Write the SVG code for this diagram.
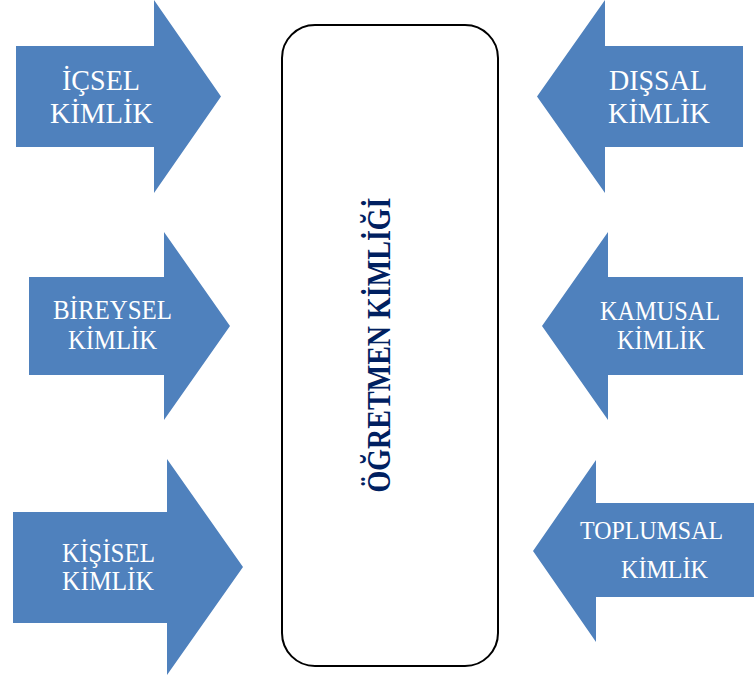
<svg xmlns="http://www.w3.org/2000/svg" width="754" height="680" viewBox="0 0 754 680">
<style>
.arrow{fill:#4F81BD;}
.lbl{font-family:"Liberation Serif","Times New Roman",serif;fill:#FFFFFF;}
.core{fill:#FFFFFF;stroke:#000000;stroke-width:2;}
.title{font-family:"Liberation Serif","Times New Roman",serif;font-weight:bold;fill:#002060;font-size:33px;}
</style>
<rect width="754" height="680" fill="#FFFFFF"/>
<g id="core">
<rect class="core" x="282" y="25" width="216" height="641" rx="33" ry="33"/>
<text class="title" transform="translate(390,345) rotate(-90)" x="0" y="0" text-anchor="middle" textLength="295" lengthAdjust="spacingAndGlyphs">ÖĞRETMEN KİMLİĞİ</text>
</g>
<g id="connectors">
<g id="icsel">
<polygon class="arrow" points="16,46 154,46 154,0 221,96.5 154,193 154,147 16,147"/>
<text class="lbl" font-size="30" x="62" y="90" textLength="78" lengthAdjust="spacingAndGlyphs">İÇSEL</text>
<text class="lbl" font-size="30" x="50" y="123" textLength="103" lengthAdjust="spacingAndGlyphs">KİMLİK</text>
</g>
<g id="dissal">
<polygon class="arrow" points="743,46 605,46 605,0 537,96.5 605,193 605,147 743,147"/>
<text class="lbl" font-size="30" x="609" y="90" textLength="98" lengthAdjust="spacingAndGlyphs">DIŞSAL</text>
<text class="lbl" font-size="30" x="608" y="123" textLength="102" lengthAdjust="spacingAndGlyphs">KİMLİK</text>
</g>
<g id="bireysel">
<polygon class="arrow" points="29,277 164,277 164,232 230,326 164,420 164,375 29,375"/>
<text class="lbl" font-size="27" x="53" y="319" textLength="119" lengthAdjust="spacingAndGlyphs">BİREYSEL</text>
<text class="lbl" font-size="27" x="68" y="349" textLength="89" lengthAdjust="spacingAndGlyphs">KİMLİK</text>
</g>
<g id="kamusal">
<polygon class="arrow" points="743,277 608,277 608,232 542,326 608,420 608,375 743,375"/>
<text class="lbl" font-size="27" x="600" y="320" textLength="120" lengthAdjust="spacingAndGlyphs">KAMUSAL</text>
<text class="lbl" font-size="27" x="617" y="349" textLength="88" lengthAdjust="spacingAndGlyphs">KİMLİK</text>
</g>
<g id="kisisel">
<polygon class="arrow" points="13,512 167,512 167,459 243,567 167,675 167,623 13,623"/>
<text class="lbl" font-size="27" x="62" y="562" textLength="93" lengthAdjust="spacingAndGlyphs">KİŞİSEL</text>
<text class="lbl" font-size="27" x="62" y="590" textLength="92" lengthAdjust="spacingAndGlyphs">KİMLİK</text>
</g>
<g id="toplumsal">
<polygon class="arrow" points="754,503 596,503 596,460 533,551 596,642 596,597 754,597"/>
<text class="lbl" font-size="26" x="580" y="539" textLength="143" lengthAdjust="spacingAndGlyphs">TOPLUMSAL</text>
<text class="lbl" font-size="26" x="621" y="578" textLength="87" lengthAdjust="spacingAndGlyphs">KİMLİK</text>
</g>
</g>
</svg>
